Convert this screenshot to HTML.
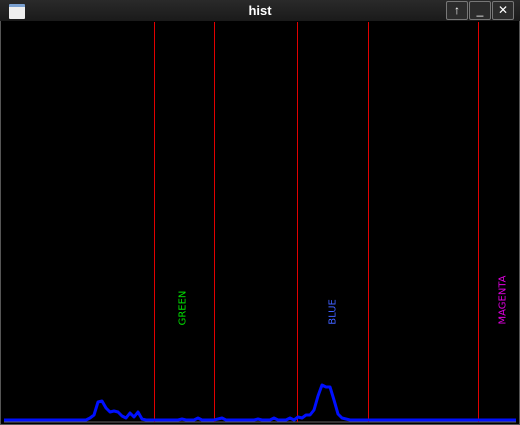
<!DOCTYPE html>
<html><head><meta charset="utf-8"><style>
body{margin:0;background:#000;width:520px;height:425px;overflow:hidden;font-family:"Liberation Sans",sans-serif}
#win{position:absolute;left:0;top:0;width:518px;height:423px;border:1px solid #555;background:#000}
#title{position:absolute;left:0;top:0;width:520px;height:21px;background:linear-gradient(#2a2a2a,#1a1a1a);color:#fff;font-weight:bold;font-size:13px;text-align:center;line-height:21px}
.btn{position:absolute;top:1px;width:20px;height:17px;border:1px solid #777;border-radius:2px;background:#2c2c2c;color:#fff;font-size:12px;line-height:17px;text-align:center}
#icon{position:absolute;left:9px;top:4px;width:16px;height:12px;background:#eee;border-top:3px solid #7aa0d0;border-radius:1px}
</style></head><body>
<div id="win"></div>
<div id="title">hist</div>
<div id="icon"></div>
<div class="btn" style="left:446px">↑</div>
<div class="btn" style="left:469px">_</div>
<div class="btn" style="left:492px">✕</div>
<svg id="chart" width="520" height="425" style="position:absolute;left:0;top:0"></svg>
<script>
const redLines=[154,214,297,368,478];
const labels=["GREEN","BLUE","MAGENTA"];
const labelX=[183,333,503];
const labelY=[308,312,300];
const labelColors=["#00e000","#4060ff","#e000e0"];
const values=[0,0,0,0,0,0,0,0,0,0,0,0,0,0,0,0,0,0,0,0,0,2,5,18,19,12,8,9,8,4,2,7,3,8,1,0,0,0,0,0,0,0,0,0,1,0,0,0,2,0,0,0,0,1,2,0,0,0,0,0,0,0,0,1,0,0,0,2,0,0,0,2,0,3,2,5,5,10,24,35,33,33,20,6,2,1,0,0,0,0,0,0,0,0,0,0,0,0,0,0,0,0,0,0,0,0,0,0,0,0,0,0,0,0,0,0,0,0,0,0,0,0,0,0,0,0,0,0];
const NS="http://www.w3.org/2000/svg",svg=document.getElementById('chart');
const xS=i=>6+4*i, yS=v=>420-v;
const base=document.createElementNS(NS,'line');
base.setAttribute('x1',4);base.setAttribute('x2',516);base.setAttribute('y1',422);base.setAttribute('y2',422);base.setAttribute('stroke','#666');base.setAttribute('stroke-width',1);


svg.appendChild(base);
redLines.forEach((x,k)=>{const l=document.createElementNS(NS,'rect');
l.setAttribute('x',x);l.setAttribute('y',22);l.setAttribute('width',1);l.setAttribute('height',400);l.setAttribute('fill','#e00000');l.setAttribute('shape-rendering','crispEdges');


svg.appendChild(l);});
const pts=values.map((v,i)=>xS(i)+','+yS(v));pts.unshift('4,420');pts.push('516,420');
const pl=document.createElementNS(NS,'polyline');
pl.setAttribute('points',pts.join(' '));pl.setAttribute('fill','none');pl.setAttribute('stroke','#0010ff');pl.setAttribute('stroke-width',3);pl.setAttribute('stroke-linejoin','round');


svg.appendChild(pl);
labels.forEach((t,k)=>{const tx=document.createElementNS(NS,'text');
tx.setAttribute('x',labelX[k]);tx.setAttribute('y',labelY[k]);tx.setAttribute('fill',labelColors[k]);tx.setAttribute('font-size','10');tx.setAttribute('font-family','DejaVu Sans, sans-serif');tx.setAttribute('text-anchor','middle');tx.setAttribute('dominant-baseline','central');
tx.setAttribute('transform','rotate(-90 '+labelX[k]+' '+labelY[k]+')');tx.textContent=t;


svg.appendChild(tx);});
</script>
</body></html>
